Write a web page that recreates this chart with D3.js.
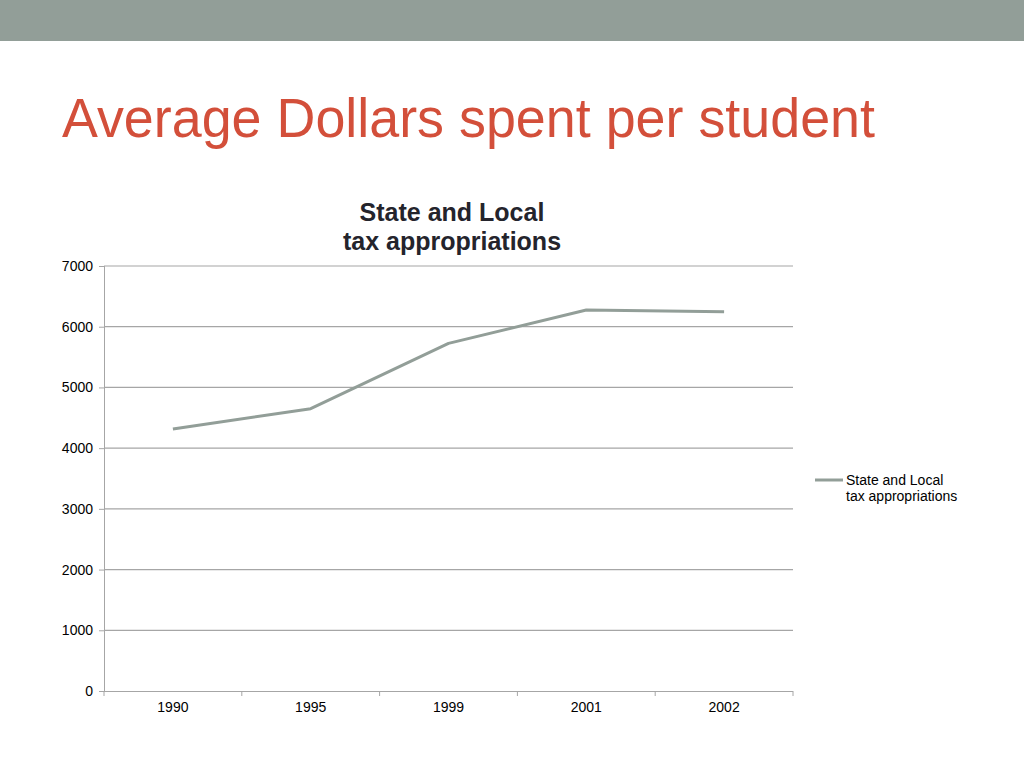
<!DOCTYPE html>
<html lang="en">
<head>
<meta charset="utf-8">
<script src="https://d3js.org/d3.v7.min.js"></script>
<title>Average Dollars spent per student</title>
<style>
    body { margin: 0; background: #fff; }
    svg { display: block; font-family: "Liberation Sans", Arial, sans-serif; }
</style>
</head>
<body>
<div id="container"></div>
<script>
    var years = ["1990", "1995", "1999", "2001", "2002"];
    var spending = [4315, 4650, 5725, 6275, 6245];
    var yTicks = [0, 1000, 2000, 3000, 4000, 5000, 6000, 7000];
    var seriesName = ["State and Local", "tax appropriations"];

    var W = 1024, H = 768;
    var margin = {top: 266, right: 231, bottom: 77, left: 104},
        width = W - margin.left - margin.right,
        height = H - margin.top - margin.bottom;

    var svg = d3.select("#container")
        .append("svg")
        .attr("width", W)
        .attr("height", H);

    // slide header bar + title
    svg.append("rect")
        .attr("x", 0).attr("y", 0)
        .attr("width", W).attr("height", 41)
        .attr("fill", "#929e98");
    svg.append("text")
        .attr("x", 62).attr("y", 137)
        .attr("fill", "#d34f3a")
        .style("font-size", "56px")
        .attr("textLength", 813)
        .attr("lengthAdjust", "spacingAndGlyphs")
        .text("Average Dollars spent per student");

    // chart title
    var title = svg.append("text")
        .attr("text-anchor", "middle")
        .attr("fill", "#24242c")
        .style("font-size", "25px")
        .style("font-weight", "bold");
    title.append("tspan").attr("x", 452).attr("y", 221).text(seriesName[0]);
    title.append("tspan").attr("x", 452).attr("y", 250).text(seriesName[1]);

    var g = svg.append("g")
        .attr("transform", "translate(" + margin.left + "," + margin.top + ")");

    var x = d3.scaleBand()
        .domain(years)
        .range([0, width]);
    var y = d3.scaleLinear()
        .domain([0, 7000])
        .range([height, 0]);

    // gridlines
    g.append("g")
        .selectAll("line")
        .data(yTicks.filter(function(d) { return d > 0; }))
        .enter()
        .append("line")
        .attr("x1", 0).attr("x2", width)
        .attr("y1", function(d) { return y(d); })
        .attr("y2", function(d) { return y(d); })
        .attr("stroke", "#a6a6a6")
        .attr("stroke-width", 1.2);

    // y axis
    var yAxis = g.append("g")
        .call(d3.axisLeft(y).tickValues(yTicks).tickSize(5).tickPadding(6).tickFormat(d3.format("d")));
    yAxis.select(".domain").attr("stroke", "#a6a6a6").attr("d", "M0.5," + height + "V0");
    yAxis.selectAll(".tick line").attr("stroke", "#a6a6a6");
    yAxis.selectAll("text").attr("fill", "#000").style("font-size", "14px");

    // x axis
    var xAxis = g.append("g")
        .attr("transform", "translate(0," + height + ")")
        .call(d3.axisBottom(x).tickSize(0).tickPadding(11));
    xAxis.select(".domain").attr("stroke", "#a6a6a6").attr("d", "M0,0.5H" + width);
    xAxis.selectAll("text").attr("fill", "#000").style("font-size", "14px");
    xAxis.selectAll(".sep")
        .data(d3.range(years.length + 1))
        .enter()
        .append("line")
        .attr("class", "sep")
        .attr("x1", function(i) { return i * x.step(); })
        .attr("x2", function(i) { return i * x.step(); })
        .attr("y1", 0).attr("y2", 5)
        .attr("stroke", "#a6a6a6");

    // series line
    g.append("path")
        .datum(years.map(function(d, i) { return {year: d, value: spending[i]}; }))
        .attr("d", d3.line()
            .x(function(d) { return x(d.year) + x.bandwidth() / 2; })
            .y(function(d) { return y(d.value); }))
        .attr("fill", "none")
        .attr("stroke", "#929e98")
        .attr("stroke-width", 3)
        .attr("stroke-linejoin", "round");

    // legend
    var lg = svg.append("g");
    lg.append("line")
        .attr("x1", 815).attr("x2", 843)
        .attr("y1", 480).attr("y2", 480)
        .attr("stroke", "#929e98")
        .attr("stroke-width", 3);
    var lt = lg.append("text")
        .attr("fill", "#000")
        .style("font-size", "14px");
    lt.append("tspan").attr("x", 846).attr("y", 485).text(seriesName[0]);
    lt.append("tspan").attr("x", 846).attr("y", 501).text(seriesName[1]);
</script>
</body>
</html>
